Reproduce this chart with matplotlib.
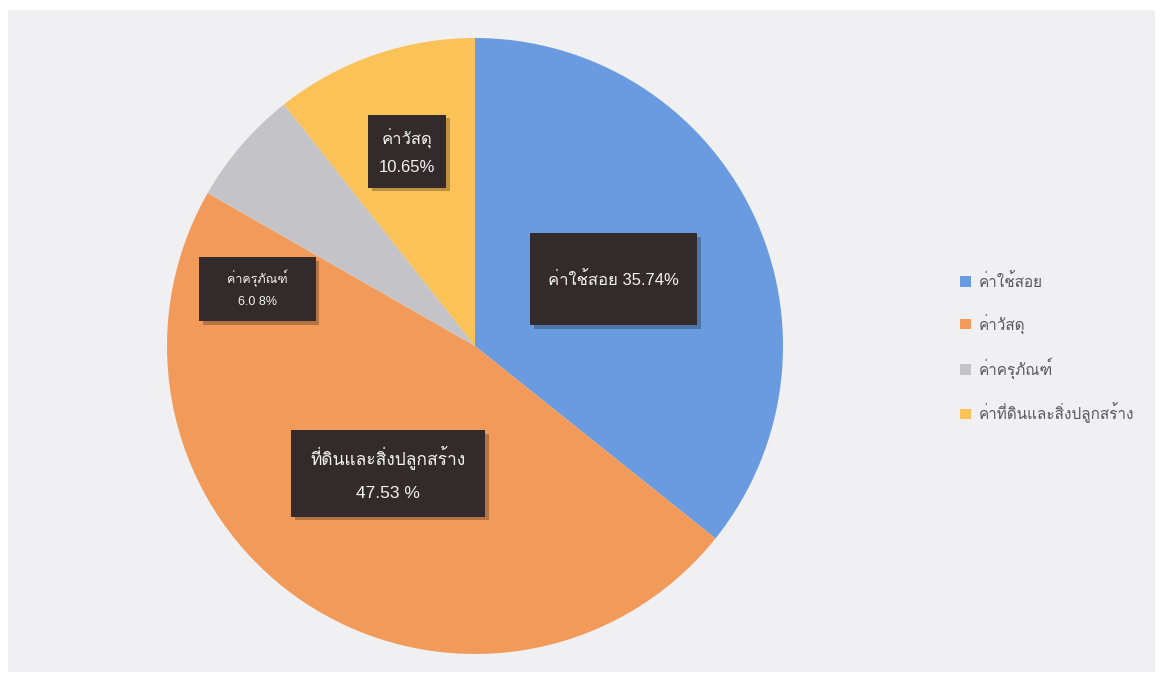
import matplotlib
matplotlib.use('Agg')
import matplotlib.pyplot as plt
from matplotlib import font_manager
from matplotlib.ft2font import FT2Font
from matplotlib.patches import Rectangle
import numpy as np


#%% data
legend_labels = ['ค่าใช้สอย', 'ค่าวัสดุ', 'ค่าครุภัณฑ์', 'ค่าที่ดินและสิ่งปลูกสร้าง']
shares = [35.74, 47.53, 6.08, 10.65]
slice_texts = ['ค่าใช้สอย 35.74%', 'ที่ดินและสิ่งปลูกสร้าง\n47.53 %',
               'ค่าครุภัณฑ์\n6.0 8%', 'ค่าวัสดุ\n10.65%']
colors = ['#6a9be0', '#f29a5a', '#c4c4c8', '#fbc257']


#%% find a font that has thai glyphs
thai_family = None
for f in font_manager.fontManager.ttflist:
    try:
        if FT2Font(f.fname).get_char_index(0x0E01) != 0:
            thai_family = f.name
            break
    except Exception:
        pass

families = ['Liberation Sans']
if thai_family:
    families.append(thai_family)
families.append('DejaVu Sans')
plt.rcParams['font.family'] = families


#%% figure
W, H = 1161, 681
R = 308.          # pie radius in pixels
cx, cy = 475, 346  # pie centre in pixels (from top-left)

fig = plt.figure(figsize=(W / 100, H / 100), dpi=100, facecolor='white')
fig.patches.append(Rectangle((8 / W, 9 / H), 1147 / W, 662 / H, transform=fig.transFigure,
                             facecolor='#f0f0f2', edgecolor='none', zorder=-1))

ax = fig.add_axes([0, 0, 1, 1])

wedges, _ = ax.pie(shares, colors=colors, startangle=90, counterclock=False,
                   radius=1, wedgeprops=dict(linewidth=0))

# pie() resets the limits, so set them afterwards
ax.set_xlim(-cx / R, (W - cx) / R)
ax.set_ylim(-(H - cy) / R, cy / R)
ax.axis('off')

# label boxes: (distance from centre, angle shift, box w, box h, fontsize, linespacing)
box_style = [(0.50, 0, 0.542, 0.299, 12, 1.2),
             (0.50, 0, 0.630, 0.282, 12.5, 2.4),
             (0.73, 26, 0.377, 0.208, 9, 2.0),
             (0.67, 0, 0.253, 0.237, 12, 2.0)]

for w, txt, st in zip(wedges, slice_texts, box_style):
    dist, shift, bw, bh, fs, ls = st
    ang = np.deg2rad((w.theta1 + w.theta2) / 2 + shift)
    x, y = dist * np.cos(ang), dist * np.sin(ang)
    # shadow
    ax.add_patch(Rectangle((x - bw / 2 + 0.012, y - bh / 2 - 0.012), bw, bh,
                           facecolor='black', alpha=0.25, edgecolor='none', zorder=3))
    ax.add_patch(Rectangle((x - bw / 2, y - bh / 2), bw, bh,
                           facecolor='#332b2b', edgecolor='none', zorder=4))
    ax.text(x, y, txt, color='#f2f2f2', fontsize=fs, ha='center', va='center',
            linespacing=ls, zorder=5, multialignment='center')

leg = fig.legend(wedges, legend_labels, loc='center left', bbox_to_anchor=(0.815, 0.489),
                 frameon=False, fontsize=11, handlelength=0.7, handleheight=0.7,
                 handletextpad=0.5, labelspacing=1.55, labelcolor='#595959')

fig.savefig('out.png', dpi=100, facecolor=fig.get_facecolor())
